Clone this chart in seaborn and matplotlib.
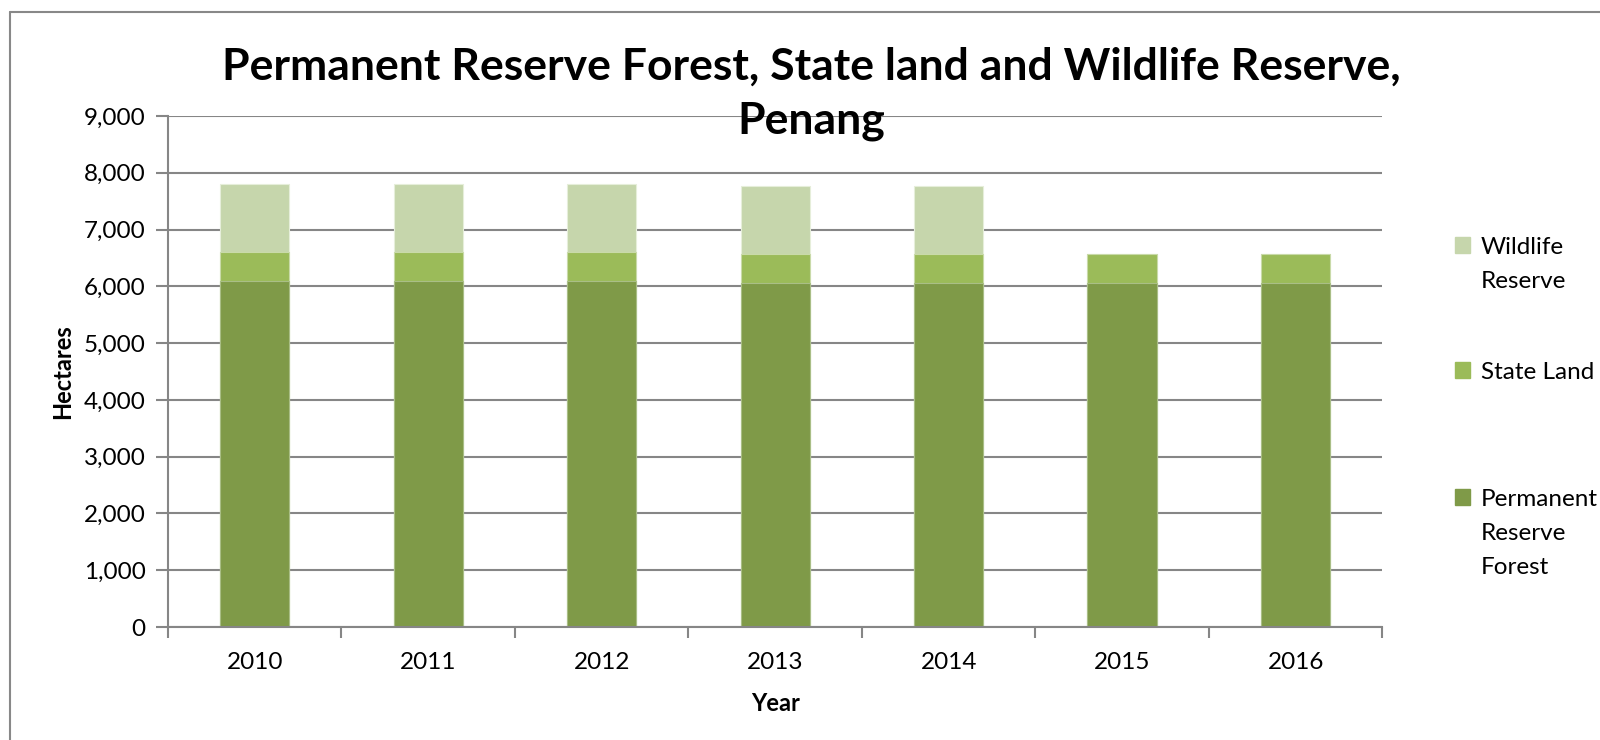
import numpy as np
import pandas as pd
import matplotlib
matplotlib.use("Agg")
import matplotlib.pyplot as plt
import seaborn as sns
from matplotlib.patches import Patch
from matplotlib.ticker import FuncFormatter

years = ["2010", "2011", "2012", "2013", "2014", "2015", "2016"]
permanent_forest = [6095, 6095, 6095, 6053, 6053, 6053, 6053]
state_land = [515, 515, 515, 517, 517, 517, 517]
wildlife_reserve = [1195, 1195, 1195, 1200, 1200, 0, 0]

c_prf = "#7F9A48"
c_state = "#9BBB59"
c_wild = "#C6D6AC"

sns.set_style("white")
plt.rcParams["font.family"] = ["Lato", "DejaVu Sans"]
plt.rcParams["text.color"] = "black"
plt.rcParams["axes.labelcolor"] = "black"

df = pd.DataFrame({"Year": years, "prf": permanent_forest,
                   "state": state_land, "wild": wildlife_reserve})
df["lvl2"] = df["prf"] + df["state"]
df["lvl3"] = df["lvl2"] + df["wild"]

fig = plt.figure(figsize=(16, 7.4), dpi=100)
ax = fig.add_axes([0.105, 0.1527, 0.759, 0.6906])

# stacked look: draw cumulative totals, tallest first
sns.barplot(data=df, x="Year", y="lvl3", color=c_wild, width=0.4, ax=ax,
            saturation=1, edgecolor="#E6EEDA", linewidth=0.8)
sns.barplot(data=df, x="Year", y="lvl2", color=c_state, width=0.4, ax=ax,
            saturation=1, edgecolor="#C9DAA9", linewidth=0.8)
sns.barplot(data=df, x="Year", y="prf", color=c_prf, width=0.4, ax=ax,
            saturation=1, edgecolor="#A9BE86", linewidth=0.8)

ax.set_ylim(0, 9000)
ax.set_xlim(-0.5, len(years) - 0.5)
ax.set_yticks(np.arange(0, 9001, 1000))
ax.yaxis.set_major_formatter(FuncFormatter(lambda v, p: f"{int(v):,}"))
ax.grid(axis="y", color="#868686", linewidth=1.5)
ax.set_axisbelow(True)

for s in ["top", "right"]:
    ax.spines[s].set_visible(False)
for s in ["left", "bottom"]:
    ax.spines[s].set_color("#868686")
    ax.spines[s].set_linewidth(1.5)

ax.tick_params(axis="y", length=9, width=1.5, color="#868686",
               labelsize=17.5, pad=7, left=True, labelcolor="black")
ax.tick_params(axis="x", which="major", length=0, labelsize=17.5, pad=18,
               labelcolor="black")
ax.set_xticks(np.arange(-0.5, len(years), 1.0), minor=True)
ax.tick_params(axis="x", which="minor", length=8, width=1.5,
               color="#868686", bottom=True)

ax.set_xlabel("Year", fontsize=17, fontweight="bold", labelpad=14)
ax.set_ylabel("Hectares", fontsize=17, fontweight="bold", labelpad=7)

fig.text(0.507, 0.873, "Permanent Reserve Forest, State land and Wildlife Reserve,\nPenang",
         ha="center", va="center", fontsize=32, fontweight="bold",
         linespacing=1.43)

# legend: one entry per box so the entry tops are evenly spaced like the original
colors = [c_wild, c_state, c_prf]
labels = ["Wildlife\nReserve", "State Land", "Permanent\nReserve\nForest"]
tops = [237, 362, 489]
for col, lab, top in zip(colors, labels, tops):
    leg = fig.legend([Patch(color=col)], [lab], loc="upper left",
                     bbox_to_anchor=(1455 / 1600, 1 - top / 740),
                     frameon=False, fontsize=17.5, handlelength=0.62,
                     handleheight=0.62, handletextpad=0.45, borderpad=0,
                     borderaxespad=0)
    for t in leg.get_texts():
        t.set_linespacing(1.75)
    for column in leg._legend_handle_box.get_children():
        for item in column.get_children():
            item.align = "top"

# outer chart border
fig.add_artist(plt.Line2D([10 / 1600, 10 / 1600], [0, 1 - 12 / 740],
                          color="#888888", linewidth=1.5))
fig.add_artist(plt.Line2D([10 / 1600, 1], [1 - 12 / 740, 1 - 12 / 740],
                          color="#888888", linewidth=1.5))

fig.savefig("out.png", dpi=100)
